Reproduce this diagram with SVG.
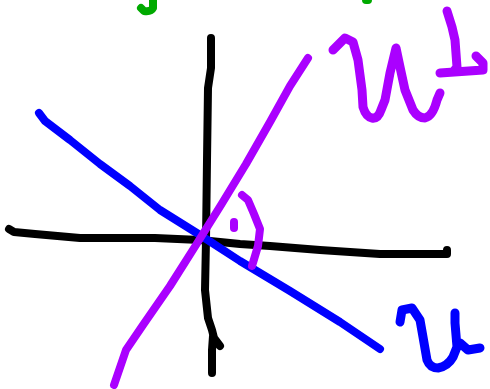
<svg xmlns="http://www.w3.org/2000/svg" width="490" height="389" viewBox="0 0 490 389">
<style>
path{fill:none;stroke-linecap:round;stroke-linejoin:round;stroke-width:8}
.k{stroke:#000}
.b{stroke:#0000ff}
.p{stroke:#aa00ff}
.g{stroke:#00aa00}
.t{stroke-width:9}
</style>
<rect width="490" height="389" fill="#fff"/>
<path class="g" d="M153,0 L153,8 Q151,12 144,11 L141,8"/>
<path class="g" d="M366,0 L368,0" stroke-width="4"/>
<path class="k" d="M9,229 L14,232 L35,234 L80,238 L155,238 L200,240 L240,244 L270,246 L320,250 L380,254 L447,254 L447,250"/>
<path class="k" d="M211,38 L211,68 L208,88 L207,160 L206,240 L205,290 L208,318 L212,330 L214,338 L220,346 M213,336 L212,350 L212,373"/>
<path class="b" d="M39,113 L45,121 L70,140 L100,164 L130,186 L160,210 L200,235 L240,261 L290,291 L340,322 L380,349"/>
<path class="p" d="M308,58 L290,86 L270,122 L246,164 L221,205 L196,245 L170,286 L143,325 L126,350 L114,385"/>
<path class="p" d="M242,195 L248,200 L254,214 L260,229 L258,246 L252,266"/>
<path class="p" d="M234,222 L234,228"/>
<path class="p t" d="M333,50 L345,38 L353,42 L358,60 L362,90 L363,107 Q366,117 372,118 Q378,119 381,110 L385,100 L390,73 L396,48 L400,67 L405,90 L413,110 Q418,118 425,118 Q433,116 437,100 L440,93"/>
<path class="p t" d="M447,11 L452,27 L455,40 L457,67 L453,72 M440,73 L483,70 L483,63 L476,56"/>
<path class="b t" d="M400,322 L402,310 L412,308 L420,320 L423,337 L427,360 Q430,368 438,368 Q448,366 453,357 L457,347 L455,323 L455,313 M460,343 L468,350 L480,348"/>
</svg>
